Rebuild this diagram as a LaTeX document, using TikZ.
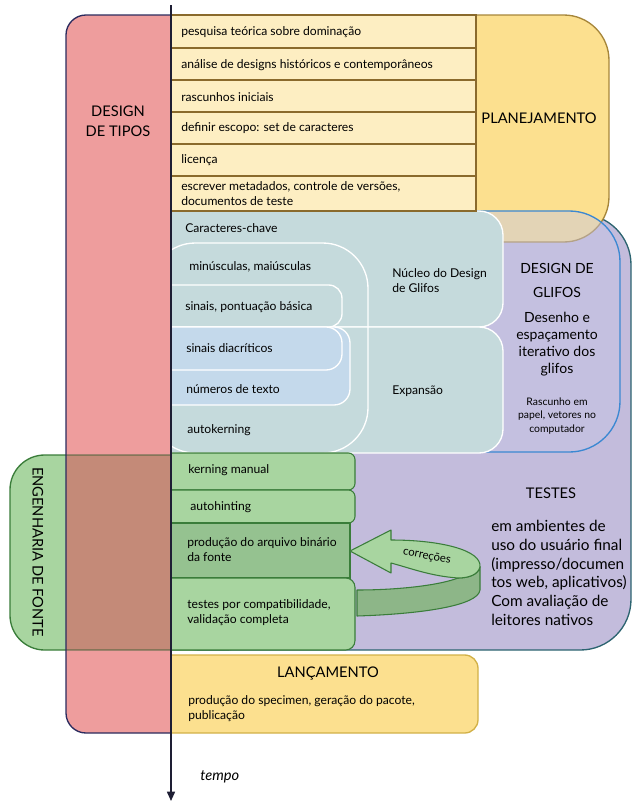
\documentclass[tikz,border=0pt]{standalone}
\usepackage{fontspec}
\setmainfont{Lato}
\usetikzlibrary{positioning,arrows.meta}

\definecolor{tiporosa}{HTML}{EE9D9D}
\definecolor{tipoborda}{HTML}{2B2B5E}
\definecolor{eixo}{HTML}{1E1E34}
\definecolor{planamarelo}{HTML}{FCE08F}
\definecolor{planborda}{HTML}{A6863A}
\definecolor{itemclaro}{HTML}{FDEEC2}
\definecolor{itemborda}{HTML}{8A6A2C}
\definecolor{testelilas}{HTML}{C3BCDC}
\definecolor{testeborda}{HTML}{2C6470}
\definecolor{glifolilas}{HTML}{C6C6E6}
\definecolor{glifoborda}{HTML}{3B88D2}
\definecolor{nucleo}{HTML}{C5DADC}
\definecolor{diacrit}{HTML}{C4D9EB}
\definecolor{engverde}{HTML}{A8D5A0}
\definecolor{engborda}{HTML}{3A7D3A}
\definecolor{verdeescuro}{HTML}{95C290}
\definecolor{anelescuro}{HTML}{8DB688}
\definecolor{marrom}{HTML}{C48A78}
\definecolor{lancborda}{HTML}{D2B148}

\tikzset{
  tarefa/.style={draw=itemborda, fill=itemclaro, line width=0.8pt},
  passo/.style={draw=engborda, fill=engverde, line width=0.8pt},
  linha/.style={white, line width=1pt},
  texto/.style={inner sep=0pt, anchor=west, align=left, font=\fontsize{9.1}{11.3}\selectfont},
  titulo/.style={inner sep=0pt, align=center, font=\fontsize{11}{15}\selectfont},
}

\begin{document}
\begin{tikzpicture}[x=0.75pt,y=-0.75pt]
\useasboundingbox (0,0) rectangle (632,803);

% engenharia de fonte
\draw[engborda, fill=engverde, line width=1pt, rounded corners=26pt] (10,455) rectangle (260,650);

% design de tipos
\begin{scope}
  \clip (0,0) rectangle (171,803);
  \fill[tiporosa, rounded corners=15pt] (66,15) rectangle (300,733);
  \fill[marrom] (66,455) rectangle (171,650);
  \draw[engborda!70!black, opacity=.4, line width=1pt] (66,455) -- (171,455) (66,650) -- (171,650);
  \draw[tipoborda, line width=1pt, rounded corners=15pt] (66,15) rectangle (300,733);
\end{scope}

\begin{scope}
  \clip (171,0) rectangle (632,803);
  % testes
  \draw[testeborda, fill=testelilas, line width=1pt, rounded corners=38pt] (150,214) rectangle (631,650);
  % planejamento
  \draw[planborda, fill=planamarelo, line width=1pt, rounded corners=34pt] (150,15) rectangle (609,242);
  % design de glifos
  \draw[glifoborda, fill=glifolilas, fill opacity=.45, line width=1pt, rounded corners=38pt] (150,211) rectangle (620,452);
  % nucleo e expansao
  \draw[linha, fill=nucleo, rounded corners=18pt] (150,211) rectangle (503,327);
  \draw[linha, fill=nucleo, rounded corners=18pt] (150,327) rectangle (503,453);
  \draw[linha, rounded corners=34pt] (150,243) rectangle (368,453);
  \draw[linha, fill=nucleo, rounded corners=10pt] (150,285) rectangle (342,327);
  \draw[linha, fill=diacrit, rounded corners=12pt] (150,327) rectangle (350,405);
  \draw[linha, fill=diacrit, rounded corners=12pt] (150,327) rectangle (342,370);
  % tarefas do planejamento
  \draw[tarefa] (150,15) rectangle (476,48);
  \draw[tarefa] (150,48) rectangle (476,80);
  \draw[tarefa] (150,80) rectangle (476,112);
  \draw[tarefa] (150,112) rectangle (476,144);
  \draw[tarefa] (150,144) rectangle (476,176);
  \draw[tarefa] (150,176) rectangle (476,211);
  % passos de engenharia
  \draw[passo, rounded corners=5pt] (150,453) rectangle (355,490);
  \draw[passo, rounded corners=5pt] (150,490) rectangle (355,523);
  \draw[passo, fill=verdeescuro] (150,523) rectangle (350,578);
  \draw[passo, rounded corners=7pt] (150,578) rectangle (355,650);
  % lancamento
  \draw[lancborda, fill=planamarelo, line width=1pt, rounded corners=10pt] (150,655) rectangle (478,733);
\end{scope}

% correcoes
\draw[engborda, fill=anelescuro, line width=0.8pt, line join=round] (480,567) -- (480,590)
  .. controls (478,606) and (420,614) .. (357,616) -- (357,590)
  .. controls (400,590) and (440,585) .. (458,578)
  .. controls (468,578) and (478,575) .. (480,567) -- cycle;
\draw[engborda, fill=engverde, line width=0.8pt, line join=round] (350,551) -- (391,530) -- (391,540)
  .. controls (440,540) and (482,550) .. (480,567)
  .. controls (478,575) and (468,578) .. (458,578)
  .. controls (430,576) and (410,568) .. (391,563) -- (391,573) -- cycle;
\node[inner sep=0pt, rotate=-11, font=\fontsize{8.5}{10}\selectfont] (correcoes) at (427,556) {correções};

% eixo do tempo
\coordinate (inicio) at (171,5);
\coordinate (fim) at (171,801);
\draw[eixo, line width=1.2pt, -{Triangle[width=6pt,length=7pt]}] (inicio) -- (fim);
\node[texto, font=\fontsize{11}{12}\itshape] (tempo) at (200,777) {tempo};

% titulos
\node[titulo] (tipos) at (118,121) {DESIGN\\DE TIPOS};
\node[titulo] (planejamento) at (539,118) {PLANEJAMENTO};
\node[titulo, font=\fontsize{10.5}{12}\selectfont] (glifos1) at (557,268) {DESIGN DE};
\node[titulo, font=\fontsize{10.5}{12}\selectfont] (glifos2) at (557,292) {GLIFOS};
\node[titulo, font=\fontsize{10.5}{12.8}\selectfont] (desenho) at (557,344) {Desenho e\\espaçamento\\iterativo dos\\glifos};
\node[titulo, font=\fontsize{7.8}{10}\selectfont] (rascunho) at (557,416) {Rascunho em\\papel, vetores no\\computador};
\node[titulo] (testes) at (551,493) {TESTES};
\node[texto, font=\fontsize{11.5}{14}\selectfont] (ambientes) at (491,573) {em ambientes de\\uso do usuário final\\(impresso/documen\\tos web, aplicativos)\\Com avaliação de\\leitores nativos};
\node[titulo, rotate=-90] (engenharia) at (38,552) {ENGENHARIA DE FONTE};
\node[titulo] (lancamento) at (328,673) {LANÇAMENTO};
\node[texto] (specimen) at (188,709) {produção do specimen, geração do pacote,\\publicação};

% tarefas
\node[texto] (pesquisa) at (181,32) {pesquisa teórica sobre dominação};
\node[texto] (analise) at (181,65) {análise de designs históricos e contemporâneos};
\node[texto] (rascunhos) at (181,97) {rascunhos iniciais};
\node[texto] (escopo) at (181,128) {definir escopo: set de caracteres};
\node[texto] (licenca) at (181,160) {licença};
\node[texto] (metadados) at (181,194) {escrever metadados, controle de versões,\\documentos de teste};

% glifos
\node[texto] (chave) at (185,228) {Caracteres-chave};
\node[texto] (minusculas) at (189,267) {minúsculas, maiúsculas};
\node[texto] (sinais) at (185,307) {sinais, pontuação básica};
\node[texto] (diacriticos) at (186,348) {sinais diacríticos};
\node[texto] (numeros) at (186,389) {números de texto};
\node[texto] (autokerning) at (187,430) {autokerning};
\node[texto] (nucleo) at (392,281) {Núcleo do Design\\de Glifos};
\node[texto] (expansao) at (392,391) {Expansão};

% engenharia
\node[texto] (kerning) at (188,470) {kerning manual};
\node[texto] (autohinting) at (190,507) {autohinting};
\node[texto] (binario) at (187,550) {produção do arquivo binário\\da fonte};
\node[texto] (compat) at (187,613) {testes por compatibilidade,\\validação completa};
\end{tikzpicture}
\end{document}
